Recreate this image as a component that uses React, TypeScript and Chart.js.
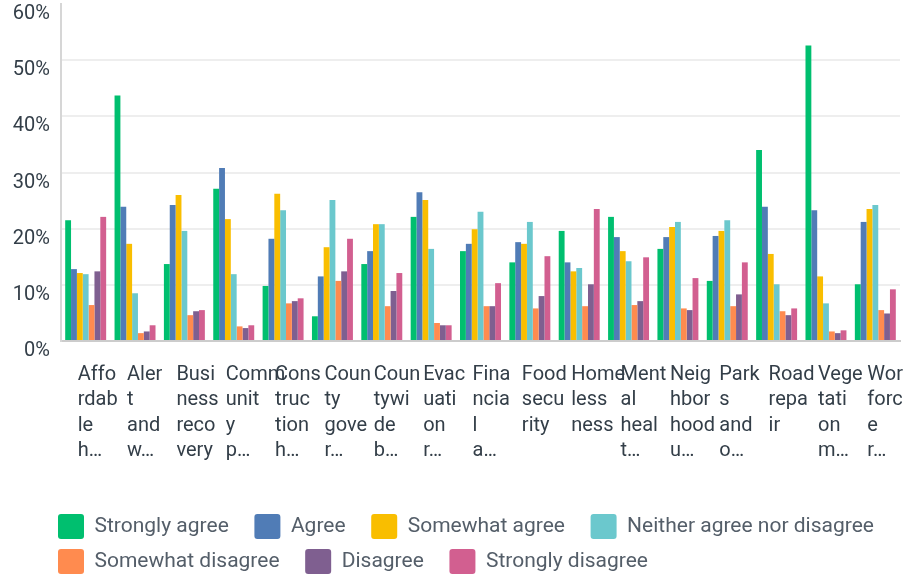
import React, { useEffect, useRef } from "react";
import { Chart, registerables } from "chart.js";

Chart.register(...registerables);

// Category tick labels as they appear (wrapped/truncated) in the reference
const tickLabels: string[][] = [
  ["Affo", "rdab", "le", "h…"],
  ["Aler", "t", "and", "w…"],
  ["Busi", "ness", "reco", "very"],
  ["Comm", "unit", "y", "p…"],
  ["Cons", "truc", "tion", "h…"],
  ["Coun", "ty", "gove", "r…"],
  ["Coun", "tywi", "de", "b…"],
  ["Evac", "uati", "on", "r…"],
  ["Fina", "ncia", "l", "a…"],
  ["Food", "secu", "rity"],
  ["Home", "less", "ness"],
  ["Ment", "al", "heal", "t…"],
  ["Neig", "hbor", "hood", "u…"],
  ["Park", "s", "and", "o…"],
  ["Road", "repa", "ir"],
  ["Vege", "tati", "on", "m…"],
  ["Wor", "forc", "e", "r…"],
];

const seriesNames = [
  "Strongly agree",
  "Agree",
  "Somewhat agree",
  "Neither agree nor disagree",
  "Somewhat disagree",
  "Disagree",
  "Strongly disagree",
];

const seriesColors = ["#00BF6F", "#507CB6", "#F9BE00", "#6BC8CD", "#FF8B4F", "#7F5F90", "#D25F90"];

const stronglyAgree = [21.5, 43.7, 13.7, 27.1, 9.8, 4.4, 13.7, 22.1, 16.0, 14.0, 19.6, 22.1, 16.4, 10.7, 34.0, 52.6, 10.1];
const agree = [12.8, 23.9, 24.2, 30.8, 18.2, 11.5, 16.0, 26.5, 17.3, 17.6, 14.0, 18.5, 18.5, 18.7, 23.9, 23.3, 21.2];
const somewhatAgree = [12.1, 17.3, 26.0, 21.7, 26.2, 16.7, 20.8, 25.1, 19.9, 17.3, 12.4, 16.0, 20.3, 19.6, 15.5, 11.5, 23.5];
const neither = [11.9, 8.5, 19.6, 11.9, 23.3, 25.1, 20.8, 16.4, 23.0, 21.2, 13.0, 14.2, 21.2, 21.5, 10.1, 6.7, 24.2];
const somewhatDisagree = [6.4, 1.4, 4.6, 2.6, 6.7, 10.7, 6.2, 3.2, 6.2, 5.8, 6.2, 6.4, 5.8, 6.2, 5.3, 1.7, 5.5];
const disagree = [12.4, 1.7, 5.3, 2.3, 7.1, 12.4, 8.9, 2.8, 6.2, 8.0, 10.1, 7.1, 5.5, 8.3, 4.6, 1.4, 4.9];
const stronglyDisagree = [22.1, 2.8, 5.5, 2.8, 7.6, 18.2, 12.1, 2.8, 10.3, 15.1, 23.5, 14.9, 11.2, 14.0, 5.8, 1.9, 9.2];

const seriesValues = [stronglyAgree, agree, somewhatAgree, neither, somewhatDisagree, disagree, stronglyDisagree];

const yTicks = [0, 10, 20, 30, 40, 50, 60];

export default function App() {
  const ref = useRef<HTMLCanvasElement>(null);

  useEffect(() => {
    document.body.style.margin = "0";
    document.body.style.overflow = "hidden";
    if (!ref.current) return;

    const legendShift = {
      id: "legendShift",
      afterLayout(chart: any) {
        const lg = chart.legend;
        if (lg) {
          lg.left = 48;
          lg.right = 950;
        }
      },
    };

    const chart = new Chart(ref.current, {
      type: "bar",
      data: {
        labels: tickLabels as any,
        datasets: seriesNames.map((name, i) => ({
          label: name,
          data: seriesValues[i],
          backgroundColor: seriesColors[i],
          borderWidth: 0,
          categoryPercentage: 0.83,
          barPercentage: 1.0,
        })),
      },
      options: {
        responsive: false,
        animation: false,
        layout: { padding: { left: 0, top: 4, right: 5, bottom: -7 } },
        plugins: {
          tooltip: { enabled: false },
          legend: {
            position: "bottom",
            align: "start",
            labels: {
              boxWidth: 26,
              boxHeight: 25,
              padding: 10,
              useBorderRadius: true,
              borderRadius: 3,
              color: "#545e69",
              font: { family: "Roboto", size: 21 },
              generateLabels: (c: any) => {
                const items = (Chart.defaults.plugins.legend.labels as any).generateLabels(c);
                return items.map((it: any) => ({ ...it, text: it.text + "   ", lineWidth: 0 }));
              },
            },
          },
        },
        scales: {
          x: {
            grid: { display: false },
            border: { display: true, color: "#cccccc", width: 2 },
            ticks: {
              color: "#333e48",
              font: { family: "Roboto", size: 20, lineHeight: 1.27 },
              align: "start",
              labelOffset: -8,
              padding: 13,
              maxRotation: 0,
              minRotation: 0,
              autoSkip: false,
            },
            afterFit: (s: any) => {
              s.height = 163;
              s.paddingLeft = 0;
              s.paddingRight = 0;
            },
          },
          y: {
            min: 0,
            max: 60,
            afterBuildTicks: (s: any) => {
              s.ticks = yTicks.map((v) => ({ value: v }));
            },
            grid: {
              drawTicks: false,
              lineWidth: 2,
              color: (ctx: any) => (ctx.tick && ctx.tick.value === 60 ? "rgba(0,0,0,0)" : "#eeeeee"),
            },
            border: { display: true, color: "#d6d6d6", width: 2 },
            ticks: {
              color: "#333e48",
              font: { family: "Roboto", size: 20 },
              padding: 11,
              labelOffset: 10,
              callback: (v: any) => v + "%",
            },
            afterFit: (s: any) => {
              s.width = 61;
              s.paddingTop = 0;
              s.paddingBottom = 0;
            },
          },
        },
      },
      plugins: [legendShift],
    } as any);

    return () => chart.destroy();
  }, []);

  return <canvas ref={ref} width={905} height={577} style={{ display: "block" }} />;
}
